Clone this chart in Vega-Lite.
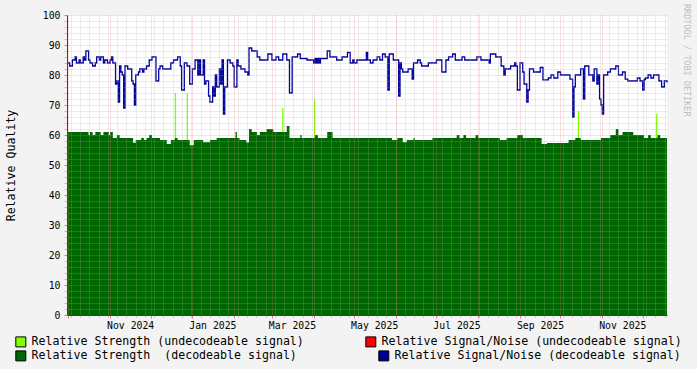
{
  "$schema": "https://vega.github.io/schema/vega-lite/v6.json",
  "width": 600,
  "height": 300,
  "autosize": {"type": "none"},
  "padding": {"left": 67, "top": 15, "right": 30, "bottom": 54},
  "background": "#F3F3F3",
  "title": {
    "text": "RRDTOOL / TOBI OETIKER",
    "orient": "right",
    "anchor": "start",
    "frame": "group",
    "font": "DejaVu Sans Mono",
    "fontSize": 8.5,
    "fontWeight": "normal",
    "color": "#C0C0C0",
    "offset": 0,
    "dx": -11
  },
  "config": {
    "font": "DejaVu Sans Mono",
    "view": {"fill": "#FFFFFF", "stroke": null},
    "axis": {
      "labelFont": "DejaVu Sans Mono",
      "labelFontSize": 9.8,
      "labelColor": "#000000",
      "domainColor": "#404040",
      "titleFont": "DejaVu Sans Mono",
      "titleFontWeight": "normal",
      "titleColor": "#000000"
    },
    "legend": {
      "labelFont": "DejaVu Sans Mono",
      "labelFontSize": 11.6,
      "labelColor": "#000000",
      "symbolType": "square",
      "symbolSize": 100,
      "symbolStrokeColor": "#000000",
      "symbolStrokeWidth": 1,
      "labelOffset": 5,
      "padding": 0,
      "labelLimit": 400
    }
  },
  "datasets": {
    "spikes": [
      {"date": "2024-12-17", "value": 74},
      {"date": "2024-12-26", "value": 74},
      {"date": "2025-03-08", "value": 69},
      {"date": "2025-04-01", "value": 72},
      {"date": "2025-10-17", "value": 68},
      {"date": "2025-12-15", "value": 67}
    ],
    "strength": [
      {"date": "2024-09-30", "value": 61},
      {"date": "2024-10-16", "value": 60},
      {"date": "2024-10-17", "value": 61},
      {"date": "2024-10-19", "value": 60},
      {"date": "2024-10-21", "value": 61},
      {"date": "2024-10-25", "value": 60},
      {"date": "2024-10-27", "value": 61},
      {"date": "2024-10-31", "value": 60},
      {"date": "2024-11-01", "value": 61},
      {"date": "2024-11-03", "value": 59},
      {"date": "2024-11-06", "value": 60},
      {"date": "2024-11-08", "value": 59},
      {"date": "2024-11-18", "value": 57.4},
      {"date": "2024-11-20", "value": 58.3},
      {"date": "2024-11-24", "value": 59},
      {"date": "2024-11-26", "value": 58.3},
      {"date": "2024-11-28", "value": 59},
      {"date": "2024-11-30", "value": 60},
      {"date": "2024-12-02", "value": 59},
      {"date": "2024-12-08", "value": 58.3},
      {"date": "2024-12-13", "value": 57},
      {"date": "2024-12-16", "value": 58.3},
      {"date": "2024-12-19", "value": 59},
      {"date": "2024-12-21", "value": 58.3},
      {"date": "2024-12-30", "value": 56.6},
      {"date": "2025-01-02", "value": 58.3},
      {"date": "2025-01-09", "value": 57.6},
      {"date": "2025-01-14", "value": 58.3},
      {"date": "2025-01-19", "value": 59},
      {"date": "2025-02-02", "value": 61},
      {"date": "2025-02-03", "value": 59},
      {"date": "2025-02-05", "value": 58.3},
      {"date": "2025-02-10", "value": 57.5},
      {"date": "2025-02-12", "value": 62},
      {"date": "2025-02-14", "value": 61},
      {"date": "2025-02-18", "value": 60},
      {"date": "2025-02-20", "value": 61},
      {"date": "2025-02-25", "value": 62},
      {"date": "2025-03-02", "value": 61},
      {"date": "2025-03-12", "value": 63},
      {"date": "2025-03-14", "value": 59},
      {"date": "2025-03-22", "value": 60},
      {"date": "2025-03-23", "value": 59},
      {"date": "2025-04-02", "value": 60},
      {"date": "2025-04-04", "value": 59},
      {"date": "2025-04-11", "value": 61},
      {"date": "2025-04-15", "value": 59},
      {"date": "2025-05-29", "value": 58.3},
      {"date": "2025-06-02", "value": 59},
      {"date": "2025-06-06", "value": 57.6},
      {"date": "2025-06-09", "value": 58.3},
      {"date": "2025-06-14", "value": 59},
      {"date": "2025-06-15", "value": 58.3},
      {"date": "2025-06-28", "value": 59},
      {"date": "2025-07-16", "value": 60},
      {"date": "2025-07-18", "value": 59},
      {"date": "2025-07-21", "value": 60},
      {"date": "2025-07-23", "value": 59},
      {"date": "2025-07-30", "value": 60},
      {"date": "2025-08-01", "value": 59},
      {"date": "2025-08-17", "value": 58.3},
      {"date": "2025-08-22", "value": 59},
      {"date": "2025-08-30", "value": 60},
      {"date": "2025-09-03", "value": 59},
      {"date": "2025-09-17", "value": 57},
      {"date": "2025-09-21", "value": 57.3},
      {"date": "2025-10-07", "value": 58.3},
      {"date": "2025-10-12", "value": 59},
      {"date": "2025-10-16", "value": 58.3},
      {"date": "2025-10-31", "value": 59},
      {"date": "2025-11-07", "value": 60},
      {"date": "2025-11-11", "value": 62},
      {"date": "2025-11-13", "value": 60},
      {"date": "2025-11-16", "value": 61},
      {"date": "2025-11-24", "value": 60},
      {"date": "2025-12-02", "value": 59},
      {"date": "2025-12-05", "value": 60},
      {"date": "2025-12-07", "value": 59},
      {"date": "2025-12-12", "value": 60},
      {"date": "2025-12-14", "value": 59},
      {"date": "2025-12-19", "value": 59}
    ],
    "sn": [
      {"date": "2024-09-30", "value": 84},
      {"date": "2024-10-02", "value": 83},
      {"date": "2024-10-04", "value": 85},
      {"date": "2024-10-06", "value": 86},
      {"date": "2024-10-07", "value": 84},
      {"date": "2024-10-09", "value": 85},
      {"date": "2024-10-10", "value": 84},
      {"date": "2024-10-12", "value": 86},
      {"date": "2024-10-13", "value": 85},
      {"date": "2024-10-14", "value": 88},
      {"date": "2024-10-16", "value": 85},
      {"date": "2024-10-17", "value": 84},
      {"date": "2024-10-19", "value": 83},
      {"date": "2024-10-21", "value": 84},
      {"date": "2024-10-22", "value": 86},
      {"date": "2024-10-24", "value": 85},
      {"date": "2024-10-25", "value": 86},
      {"date": "2024-10-27", "value": 84},
      {"date": "2024-10-28", "value": 85},
      {"date": "2024-10-30", "value": 84},
      {"date": "2024-11-01", "value": 85},
      {"date": "2024-11-02", "value": 86},
      {"date": "2024-11-03", "value": 84},
      {"date": "2024-11-05", "value": 77},
      {"date": "2024-11-06", "value": 78},
      {"date": "2024-11-07", "value": 71},
      {"date": "2024-11-08", "value": 83},
      {"date": "2024-11-09", "value": 81},
      {"date": "2024-11-10", "value": 80},
      {"date": "2024-11-11", "value": 69},
      {"date": "2024-11-12", "value": 83},
      {"date": "2024-11-14", "value": 82},
      {"date": "2024-11-17", "value": 78},
      {"date": "2024-11-18", "value": 77},
      {"date": "2024-11-19", "value": 70},
      {"date": "2024-11-20", "value": 80},
      {"date": "2024-11-22", "value": 81},
      {"date": "2024-11-23", "value": 82},
      {"date": "2024-11-25", "value": 81},
      {"date": "2024-11-26", "value": 82},
      {"date": "2024-11-28", "value": 83},
      {"date": "2024-11-30", "value": 85},
      {"date": "2024-12-02", "value": 86},
      {"date": "2024-12-05", "value": 78},
      {"date": "2024-12-07", "value": 82},
      {"date": "2024-12-08", "value": 83},
      {"date": "2024-12-10", "value": 82},
      {"date": "2024-12-16", "value": 84},
      {"date": "2024-12-18", "value": 85},
      {"date": "2024-12-21", "value": 86},
      {"date": "2024-12-23", "value": 83},
      {"date": "2024-12-24", "value": 75},
      {"date": "2024-12-26", "value": 84},
      {"date": "2024-12-28", "value": 83},
      {"date": "2024-12-30", "value": 77},
      {"date": "2025-01-01", "value": 82},
      {"date": "2025-01-03", "value": 85},
      {"date": "2025-01-05", "value": 80},
      {"date": "2025-01-06", "value": 85},
      {"date": "2025-01-07", "value": 80},
      {"date": "2025-01-09", "value": 85},
      {"date": "2025-01-10", "value": 77},
      {"date": "2025-01-11", "value": 78},
      {"date": "2025-01-13", "value": 73},
      {"date": "2025-01-14", "value": 71},
      {"date": "2025-01-16", "value": 76},
      {"date": "2025-01-17", "value": 73},
      {"date": "2025-01-18", "value": 80},
      {"date": "2025-01-19", "value": 76},
      {"date": "2025-01-21", "value": 82},
      {"date": "2025-01-22", "value": 77},
      {"date": "2025-01-23", "value": 85},
      {"date": "2025-01-24", "value": 67},
      {"date": "2025-01-25", "value": 76},
      {"date": "2025-01-27", "value": 85},
      {"date": "2025-01-29", "value": 84},
      {"date": "2025-01-31", "value": 83},
      {"date": "2025-02-01", "value": 76},
      {"date": "2025-02-03", "value": 85},
      {"date": "2025-02-04", "value": 83},
      {"date": "2025-02-06", "value": 82},
      {"date": "2025-02-09", "value": 81},
      {"date": "2025-02-11", "value": 80},
      {"date": "2025-02-12", "value": 89},
      {"date": "2025-02-14", "value": 88},
      {"date": "2025-02-18", "value": 86},
      {"date": "2025-02-20", "value": 85},
      {"date": "2025-02-26", "value": 87},
      {"date": "2025-03-01", "value": 85},
      {"date": "2025-03-04", "value": 86},
      {"date": "2025-03-06", "value": 85},
      {"date": "2025-03-09", "value": 87},
      {"date": "2025-03-12", "value": 85},
      {"date": "2025-03-14", "value": 74},
      {"date": "2025-03-16", "value": 86},
      {"date": "2025-03-20", "value": 87},
      {"date": "2025-03-22", "value": 85.5},
      {"date": "2025-03-27", "value": 85},
      {"date": "2025-04-01", "value": 84},
      {"date": "2025-04-02", "value": 85.5},
      {"date": "2025-04-03", "value": 84},
      {"date": "2025-04-04", "value": 85.5},
      {"date": "2025-04-05", "value": 84},
      {"date": "2025-04-06", "value": 85.5},
      {"date": "2025-04-11", "value": 88},
      {"date": "2025-04-13", "value": 86},
      {"date": "2025-04-18", "value": 85},
      {"date": "2025-04-22", "value": 86},
      {"date": "2025-04-26", "value": 87.5},
      {"date": "2025-04-28", "value": 84},
      {"date": "2025-04-30", "value": 85},
      {"date": "2025-05-01", "value": 84},
      {"date": "2025-05-03", "value": 85},
      {"date": "2025-05-10", "value": 87.5},
      {"date": "2025-05-11", "value": 85},
      {"date": "2025-05-13", "value": 84},
      {"date": "2025-05-15", "value": 85},
      {"date": "2025-05-18", "value": 86},
      {"date": "2025-05-20", "value": 85},
      {"date": "2025-05-22", "value": 87},
      {"date": "2025-05-24", "value": 86},
      {"date": "2025-05-26", "value": 75},
      {"date": "2025-05-27", "value": 87},
      {"date": "2025-05-30", "value": 85},
      {"date": "2025-06-03", "value": 73},
      {"date": "2025-06-04", "value": 84},
      {"date": "2025-06-05", "value": 82},
      {"date": "2025-06-06", "value": 81},
      {"date": "2025-06-10", "value": 82},
      {"date": "2025-06-13", "value": 78.6},
      {"date": "2025-06-14", "value": 84},
      {"date": "2025-06-17", "value": 85},
      {"date": "2025-06-19", "value": 84},
      {"date": "2025-06-20", "value": 83},
      {"date": "2025-06-25", "value": 84},
      {"date": "2025-07-01", "value": 85},
      {"date": "2025-07-05", "value": 81},
      {"date": "2025-07-08", "value": 85},
      {"date": "2025-07-10", "value": 86},
      {"date": "2025-07-13", "value": 87},
      {"date": "2025-07-15", "value": 85},
      {"date": "2025-07-20", "value": 86},
      {"date": "2025-07-22", "value": 85},
      {"date": "2025-07-31", "value": 86},
      {"date": "2025-08-03", "value": 85},
      {"date": "2025-08-09", "value": 84},
      {"date": "2025-08-10", "value": 87},
      {"date": "2025-08-14", "value": 86},
      {"date": "2025-08-18", "value": 83},
      {"date": "2025-08-20", "value": 80},
      {"date": "2025-08-21", "value": 82},
      {"date": "2025-08-25", "value": 83},
      {"date": "2025-08-28", "value": 84},
      {"date": "2025-08-29", "value": 83},
      {"date": "2025-08-30", "value": 75},
      {"date": "2025-09-01", "value": 84},
      {"date": "2025-09-03", "value": 81},
      {"date": "2025-09-04", "value": 77},
      {"date": "2025-09-06", "value": 71},
      {"date": "2025-09-07", "value": 75},
      {"date": "2025-09-08", "value": 82},
      {"date": "2025-09-11", "value": 81},
      {"date": "2025-09-16", "value": 82.5},
      {"date": "2025-09-18", "value": 78.4},
      {"date": "2025-09-22", "value": 79},
      {"date": "2025-09-24", "value": 80},
      {"date": "2025-09-26", "value": 79},
      {"date": "2025-09-29", "value": 81},
      {"date": "2025-10-01", "value": 80},
      {"date": "2025-10-08", "value": 78.6},
      {"date": "2025-10-10", "value": 66},
      {"date": "2025-10-11", "value": 76},
      {"date": "2025-10-12", "value": 80},
      {"date": "2025-10-16", "value": 82},
      {"date": "2025-10-18", "value": 72},
      {"date": "2025-10-19", "value": 83},
      {"date": "2025-10-22", "value": 80},
      {"date": "2025-10-25", "value": 78},
      {"date": "2025-10-26", "value": 82},
      {"date": "2025-10-28", "value": 77},
      {"date": "2025-10-29", "value": 80},
      {"date": "2025-10-30", "value": 72},
      {"date": "2025-10-31", "value": 70},
      {"date": "2025-11-01", "value": 67},
      {"date": "2025-11-02", "value": 80},
      {"date": "2025-11-05", "value": 81},
      {"date": "2025-11-07", "value": 82},
      {"date": "2025-11-11", "value": 83},
      {"date": "2025-11-13", "value": 80},
      {"date": "2025-11-16", "value": 81},
      {"date": "2025-11-18", "value": 78.6},
      {"date": "2025-11-20", "value": 78},
      {"date": "2025-11-27", "value": 79},
      {"date": "2025-11-29", "value": 78},
      {"date": "2025-12-01", "value": 75},
      {"date": "2025-12-02", "value": 78.5},
      {"date": "2025-12-03", "value": 79},
      {"date": "2025-12-05", "value": 80},
      {"date": "2025-12-07", "value": 79},
      {"date": "2025-12-09", "value": 80},
      {"date": "2025-12-13", "value": 78},
      {"date": "2025-12-15", "value": 76},
      {"date": "2025-12-17", "value": 78},
      {"date": "2025-12-19", "value": 77.5}
    ]
  },
  "resolve": {"scale": {"x": "independent", "y": "independent"}},
  "layer": [
    {
      "data": {"name": "spikes"},
      "mark": {"type": "bar", "size": 1.3},
      "encoding": {
        "x": {
          "field": "date", "type": "temporal",
          "scale": {"type": "utc", "nice": false, "domain": [{"year": 2024, "month": "sep", "date": 30, "utc": true}, {"year": 2025, "month": "dec", "date": 19, "utc": true}]},
          "axis": {
            "orient": "bottom", "title": null, "labels": false, "domain": false,
            "tickCount": {"interval": "week", "step": 1},
            "ticks": true, "tickSize": 2, "tickColor": "#C0C0C0",
            "grid": true, "gridColor": "#B0B0B0", "gridDash": [1, 1], "gridOpacity": 0.45,
            "zindex": 1
          }
        },
        "y": {
          "field": "value", "type": "quantitative",
          "scale": {"domain": [0, 100], "nice": false, "zero": true},
          "axis": {
            "orient": "left",
            "values": [0, 2, 4, 6, 8, 10, 12, 14, 16, 18, 20, 22, 24, 26, 28, 30, 32, 34, 36, 38, 40, 42, 44, 46, 48, 50, 52, 54, 56, 58, 60, 62, 64, 66, 68, 70, 72, 74, 76, 78, 80, 82, 84, 86, 88, 90, 92, 94, 96, 98, 100],
            "labelExpr": "datum.value % 10 === 0 ? datum.label : ''",
            "labelOverlap": false,
            "labelPadding": 4,
            "tickSize": 3,
            "tickColor": {"condition": {"test": "datum.value % 10 === 0", "value": "#E08080"}, "value": "#C0C0C0"},
            "grid": true,
            "gridColor": {"condition": {"test": "datum.value % 10 === 0", "value": "#F07070"}, "value": "#B0B0B0"},
            "gridOpacity": 0.45,
            "gridDash": [1, 1],
            "title": "Relative Quality",
            "titleFontSize": 11.6,
            "titlePadding": 26,
            "zindex": 1
          }
        },
        "color": {
          "datum": "Relative Strength (undecodeable signal)",
          "type": "nominal",
          "scale": {"domain": ["Relative Strength (undecodeable signal)", "Relative Signal/Noise (undecodeable signal)"], "range": ["#7FFF00", "#FF0000"]},
          "legend": {"orient": "none", "legendX": -52, "legendY": 321, "direction": "horizontal", "title": null, "columnPadding": 59}
        }
      }
    },
    {
      "data": {"name": "strength"},
      "mark": {"type": "area", "interpolate": "step-after"},
      "encoding": {
        "x": {
          "field": "date", "type": "temporal",
          "scale": {"type": "utc", "nice": false, "domain": [{"year": 2024, "month": "sep", "date": 30, "utc": true}, {"year": 2025, "month": "dec", "date": 19, "utc": true}]},
          "axis": {
            "orient": "bottom", "title": null,
            "tickCount": {"interval": "month", "step": 1},
            "labelExpr": "utcmonth(datum.value) % 2 == 0 ? utcFormat(datum.value, '%b %Y') : ''",
            "labelOffset": 20, "labelOverlap": false, "labelFlush": false, "labelPadding": 2,
            "ticks": true, "tickSize": 3, "tickColor": "#E08080",
            "grid": true, "gridColor": "#F07070", "gridDash": [1, 1], "gridOpacity": 0.45,
            "zindex": 1
          }
        },
        "y": {
          "field": "value", "type": "quantitative",
          "scale": {"domain": [0, 100], "nice": false, "zero": true},
          "axis": null
        },
        "fill": {
          "datum": "Relative Strength \u00a0(decodeable signal)",
          "type": "nominal",
          "scale": {"domain": ["Relative Strength \u00a0(decodeable signal)", "Relative Signal/Noise (decodeable signal)"], "range": ["#006600", "#000099"]},
          "legend": {"orient": "none", "legendX": -52, "legendY": 335, "direction": "horizontal", "title": null, "columnPadding": 79}
        }
      }
    },
    {
      "data": {"name": "sn"},
      "mark": {"type": "line", "interpolate": "step-after", "stroke": "#000099", "strokeWidth": 1.3},
      "encoding": {
        "x": {
          "field": "date", "type": "temporal",
          "scale": {"type": "utc", "nice": false, "domain": [{"year": 2024, "month": "sep", "date": 30, "utc": true}, {"year": 2025, "month": "dec", "date": 19, "utc": true}]},
          "axis": null
        },
        "y": {
          "field": "value", "type": "quantitative",
          "scale": {"domain": [0, 100], "nice": false, "zero": true},
          "axis": null
        }
      }
    }
  ]
}
